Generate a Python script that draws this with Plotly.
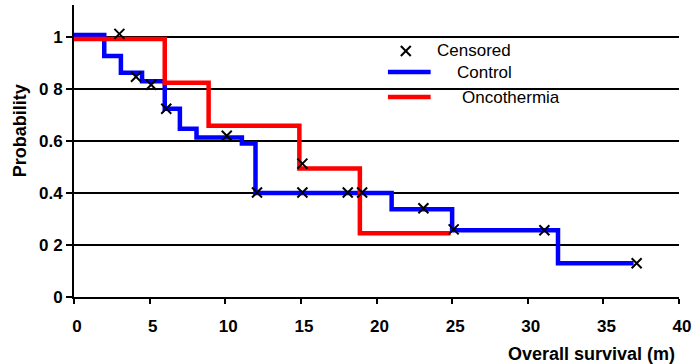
import plotly.graph_objects as go

# Kaplan-Meier step data (time in months, survival probability)
control_time = [0, 2, 3.1, 4.5, 6, 7, 8.1, 11.1, 12, 21, 25, 32, 37]
control_prob = [1.008, 0.927, 0.862, 0.83, 0.724, 0.647, 0.613, 0.59, 0.40, 0.337, 0.257, 0.13, 0.13]

onco_time = [0, 6, 8.9, 14.9, 18.9, 24.9]
onco_prob = [0.992, 0.824, 0.659, 0.494, 0.245, 0.245]

# censored observations
cens_time = [3.0, 4.1, 5.1, 6.1, 10.1, 15.1, 12.1, 15.1, 18.1, 19.05, 23.1, 25.1, 31.1, 37.2]
cens_prob = [1.012, 0.847, 0.816, 0.724, 0.62, 0.513, 0.402, 0.402, 0.402, 0.402, 0.341, 0.26, 0.257, 0.13]

y_tickvals = [0, 0.2, 0.4, 0.6, 0.8, 1]
y_ticktext = ["0", "0 2", "0.4", "0.6", "0 8", "1"]
x_tickvals = [0, 5, 10, 15, 20, 25, 30, 35, 40]

W, H = 696, 364
L, R, T, B = 74, 13, 5, 67
PW, PH = W - L - R, H - T - B


def px(x):
    return (x - L) / PW


def py(y):
    return (H - B - y) / PH


FONT = "Arial, Liberation Sans, sans-serif"
LW = 4.5

fig = go.Figure()
fig.add_trace(go.Scatter(x=control_time, y=control_prob, mode="lines",
                         line=dict(color="#0000ff", width=LW, shape="hv"),
                         showlegend=False))
fig.add_trace(go.Scatter(x=onco_time, y=onco_prob, mode="lines",
                         line=dict(color="#ff0000", width=LW, shape="hv"),
                         showlegend=False))
fig.add_trace(go.Scatter(x=cens_time, y=cens_prob, mode="markers",
                         marker=dict(symbol="x-thin", size=10, color="black",
                                     line=dict(color="black", width=2)),
                         showlegend=False))

shapes = []
# legend glyphs
cx, cy, s = 408, 51, 5
shapes.append(dict(type="line", xref="paper", yref="paper",
                   x0=px(cx - s), y0=py(cy - s), x1=px(cx + s), y1=py(cy + s),
                   line=dict(color="black", width=2)))
shapes.append(dict(type="line", xref="paper", yref="paper",
                   x0=px(cx - s), y0=py(cy + s), x1=px(cx + s), y1=py(cy - s),
                   line=dict(color="black", width=2)))
shapes.append(dict(type="line", xref="paper", yref="paper",
                   x0=px(390), y0=py(72), x1=px(433), y1=py(72),
                   line=dict(color="#0000ff", width=LW)))
shapes.append(dict(type="line", xref="paper", yref="paper",
                   x0=px(390), y0=py(97), x1=px(433), y1=py(97),
                   line=dict(color="#ff0000", width=LW)))

annotations = [
    dict(text="Censored", x=px(437), y=py(51), xref="paper", yref="paper",
         xanchor="left", yanchor="middle", showarrow=False,
         font=dict(family=FONT, size=17, color="black")),
    dict(text="Control", x=px(458), y=py(72), xref="paper", yref="paper",
         xanchor="left", yanchor="middle", showarrow=False,
         font=dict(family=FONT, size=17, color="black")),
    dict(text="Oncothermia", x=px(463), y=py(97), xref="paper", yref="paper",
         xanchor="left", yanchor="middle", showarrow=False,
         font=dict(family=FONT, size=17, color="black")),
    dict(text="Probability", x=px(20), y=py(131), xref="paper", yref="paper",
         xanchor="center", yanchor="middle", showarrow=False, textangle=-90,
         font=dict(family=FONT, size=18, color="black", weight="bold")),
    dict(text="Overall survival (m)", x=px(681), y=py(354), xref="paper", yref="paper",
         xanchor="right", yanchor="middle", showarrow=False,
         font=dict(family=FONT, size=18, color="black", weight="bold")),
]

fig.update_layout(
    width=W, height=H,
    margin=dict(l=L, r=R, t=T, b=B, pad=0),
    paper_bgcolor="white", plot_bgcolor="white",
    shapes=shapes, annotations=annotations,
    xaxis=dict(range=[0, 40], tickvals=x_tickvals, showgrid=False, zeroline=False,
               showline=True, linecolor="black", linewidth=2,
               ticks="outside", ticklen=5, tickwidth=2, tickcolor="black",
               ticklabelstandoff=8, ticklabelshift=3,
               tickfont=dict(family=FONT, size=17, color="black", weight="bold")),
    yaxis=dict(range=[0, 1.123], tickvals=y_tickvals, ticktext=y_ticktext,
               showgrid=True, gridcolor="black", gridwidth=1.5, zeroline=False,
               showline=True, linecolor="black", linewidth=2,
               ticks="outside", ticklen=6, tickwidth=2, tickcolor="black",
               tickfont=dict(family=FONT, size=17, color="black", weight="bold")),
)

fig.write_html("out.html")
